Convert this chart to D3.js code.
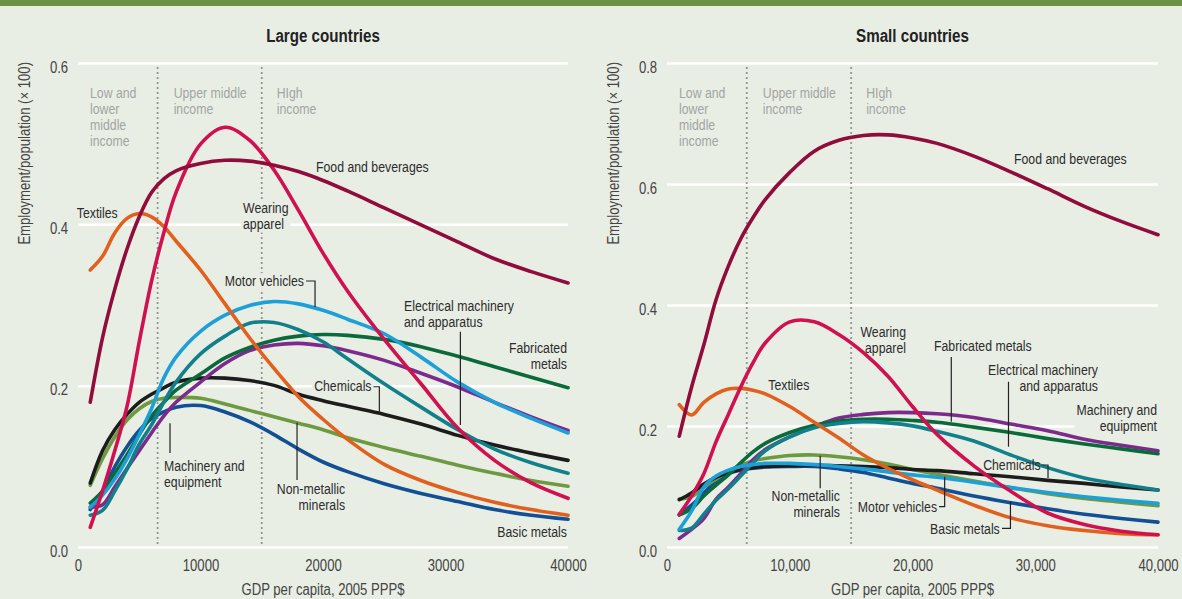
<!DOCTYPE html>
<html><head><meta charset="utf-8">
<script src="https://cdn.jsdelivr.net/npm/d3@7"></script>
<style>
html,body{margin:0;padding:0;background:#e9eee5;}
svg{display:block;font-family:"Liberation Sans",Arial,Helvetica,sans-serif;}
</style></head><body>
<svg id="chart" width="1182" height="599"></svg>
<script>
// ---------- DATA ----------
const gdp = [1000,2000,3000,4000,5000,6000,7000,8000,10000,12000,14000,16000,18000,20000,22000,25000,28000,31000,34000,37000,40000];

const seriesNames = ["Food and beverages","Wearing apparel","Textiles","Motor vehicles","Electrical machinery and apparatus","Fabricated metals","Machinery and equipment","Chemicals","Non-metallic minerals","Basic metals"];
const seriesColors = ["#900c3b","#d0114f","#e1601d","#1d9fd8","#12808b","#0b6a3b","#7c2b8c","#1c1c1c","#6d9a40","#124f95"];

// Large countries
const largeFood       = [.180,.260,.320,.370,.410,.440,.457,.467,.476,.480,.479,.474,.466,.455,.442,.421,.400,.379,.358,.342,.328];
const largeWearing    = [.025,.070,.120,.175,.255,.330,.390,.440,.500,.521,.505,.468,.418,.365,.318,.258,.203,.148,.108,.080,.061];
const largeTextiles   = [.344,.361,.390,.408,.414,.410,.398,.380,.344,.302,.260,.222,.187,.159,.134,.103,.083,.068,.056,.047,.040];
const largeMotor      = [.050,.065,.085,.110,.140,.172,.210,.236,.268,.288,.300,.305,.302,.294,.283,.265,.236,.205,.180,.160,.142];
const largeElectrical = [.040,.046,.070,.097,.128,.152,.180,.205,.240,.262,.278,.279,.270,.255,.234,.203,.174,.146,.122,.105,.092];
const largeFabricated = [.055,.070,.092,.115,.140,.163,.180,.195,.215,.235,.248,.257,.262,.264,.263,.258,.249,.237,.224,.211,.198];
const largeMachinery  = [.050,.053,.075,.098,.120,.142,.163,.180,.205,.228,.244,.251,.253,.250,.244,.232,.216,.199,.180,.162,.145];
const largeChemicals  = [.080,.120,.146,.165,.180,.190,.198,.205,.210,.210,.207,.201,.190,.182,.175,.165,.153,.139,.127,.117,.108];
const largeNonmetal   = [.077,.110,.137,.158,.172,.181,.185,.186,.185,.178,.170,.162,.154,.146,.136,.124,.113,.102,.092,.083,.076];
const largeBasic      = [.047,.070,.100,.125,.145,.160,.168,.174,.176,.168,.156,.140,.122,.106,.094,.079,.067,.057,.047,.040,.035];

// Small countries
const smallFood       = [.184,.265,.335,.410,.465,.510,.545,.575,.620,.655,.673,.681,.682,.677,.668,.647,.621,.593,.564,.539,.517];
const smallWearing    = [.055,.085,.122,.175,.220,.265,.305,.338,.373,.373,.352,.322,.283,.233,.187,.135,.093,.057,.038,.027,.021];
const smallTextiles   = [.236,.219,.240,.254,.262,.263,.260,.254,.233,.207,.181,.153,.131,.112,.095,.070,.049,.036,.028,.023,.021];
const smallMotor      = [.030,.060,.100,.118,.128,.134,.137,.139,.139,.137,.134,.130,.125,.120,.116,.108,.099,.091,.084,.078,.073];
const smallElectrical = [.028,.032,.055,.078,.097,.118,.140,.160,.183,.198,.205,.208,.206,.201,.192,.176,.153,.132,.115,.104,.095];
const smallFabricated = [.054,.064,.085,.103,.120,.140,.158,.172,.190,.202,.209,.212,.212,.210,.207,.199,.190,.180,.171,.163,.155];
const smallMachinery  = [.015,.030,.048,.080,.100,.122,.145,.162,.183,.200,.214,.220,.223,.223,.221,.215,.204,.193,.179,.169,.160];
const smallChemicals  = [.079,.090,.105,.116,.124,.129,.132,.134,.135,.136,.135,.134,.132,.129,.127,.122,.117,.111,.106,.100,.095];
const smallNonmetal   = [.080,.084,.100,.113,.126,.136,.143,.147,.152,.153,.150,.145,.138,.129,.121,.110,.099,.089,.081,.075,.069];
const smallBasic      = [.054,.070,.090,.110,.122,.128,.131,.133,.134,.134,.130,.124,.115,.106,.098,.085,.074,.064,.055,.048,.042];

const incomeThresholds = [6500, 15000];
const incomeLabels = [["Low and","lower","middle","income"],["Upper middle","income"],["HIgh","income"]];
const largeYTicks = [0, 0.2, 0.4, 0.6];
const smallYTicks = [0, 0.2, 0.4, 0.6, 0.8];
const xTicks = [0, 10000, 20000, 30000, 40000];

// label annotations (data coordinates)
const largeNotes = [
  {lines:["Food and beverages"], gx:19430, v:.4717, anchor:"start"},
  {lines:["Wearing","apparel"], gx:13470, v:.4208, anchor:"start"},
  {lines:["Textiles"], gx:-100, v:.4146, anchor:"start"},
  {lines:["Motor vehicles"], gx:18450, v:.3304, anchor:"end", link:[[18620,.3304],[19350,.3304],[19350,.2981]]},
  {lines:["Electrical machinery","and apparatus"], gx:26610, v:.2997, anchor:"start", link:[[31215,.2675],[31215,.1519]]},
  {lines:["Fabricated","metals"], gx:39918, v:.2473, anchor:"end"},
  {lines:["Chemicals"], gx:23960, v:.2002, anchor:"end", link:[[24130,.1993],[24600,.1993],[24600,.1683]]},
  {lines:["Machinery and","equipment"], gx:7020, v:.1014, anchor:"start", link:[[7510,.154],[7510,.1171]]},
  {lines:["Non-metallic","minerals"], gx:21800, v:.0734, anchor:"end", link:[[17880,.1547],[17880,.0837]]},
  {lines:["Basic metals"], gx:39918, v:.0196, anchor:"end"}
];
const smallNotes = [
  {lines:["Food and beverages"], gx:28270, v:.6421, anchor:"start"},
  {lines:["Wearing","apparel"], gx:19470, v:.3567, anchor:"end"},
  {lines:["Textiles"], gx:8253, v:.2697, anchor:"start"},
  {lines:["Fabricated metals"], gx:21750, v:.3336, anchor:"start", link:[[23160,.3149],[23160,.2079]]},
  {lines:["Electrical machinery","and apparatus"], gx:35110, v:.2934, anchor:"end", link:[[27820,.274],[27820,.1666]]},
  {lines:["Machinery and","equipment"], gx:39920, v:.2273, anchor:"end"},
  {lines:["Chemicals"], gx:30430, v:.1364, anchor:"end", link:[[30590,.1364],[31040,.1364],[31040,.1149]]},
  {lines:["Non-metallic","minerals"], gx:14080, v:.0851, anchor:"end", link:[[12480,.1517],[12480,.0979]]},
  {lines:["Motor vehicles"], gx:22000, v:.0674, anchor:"end", link:[[22160,.0674],[22620,.0674],[22620,.117]]},
  {lines:["Basic metals"], gx:27110, v:.0317, anchor:"end", link:[[27290,.0317],[27980,.0317],[27980,.0757]]}
];

// ---------- LAYOUT ----------
const BG = "#e9eee5";
const SX = 0.82; // horizontal condensing of text
const panels = [
  {title:"Large countries", x0:78, x1:568, yMax:0.6, yTicks:largeYTicks, fmt:d3.format("d"), notes:largeNotes,
   series:[largeFood,largeWearing,largeTextiles,largeMotor,largeElectrical,largeFabricated,largeMachinery,largeChemicals,largeNonmetal,largeBasic]},
  {title:"Small countries", x0:667, x1:1158, yMax:0.8, yTicks:smallYTicks, fmt:d3.format(","), notes:smallNotes,
   series:[smallFood,smallWearing,smallTextiles,smallMotor,smallElectrical,smallFabricated,smallMachinery,smallChemicals,smallNonmetal,smallBasic]}
];
const yTop = 63.5, yBot = 547.5;
const drawOrder = [9,8,7,6,5,4,3,2,1,0];

const svg = d3.select("#chart");
svg.append("rect").attr("width",1182).attr("height",599).attr("fill",BG);
svg.append("rect").attr("width",1182).attr("height",6).attr("fill","#6a9444");

function ntext(parent, x, y, anchor, size, lines, lh, dy) {
  const t = parent.append("text").attr("transform",`translate(${x},${y}) scale(${SX},1)`)
    .attr("text-anchor",anchor).attr("font-size",size);
  lines.forEach((ln,i)=> t.append("tspan").attr("x",0).attr("y",i*lh).attr("dy",dy||0).text(ln));
  return t;
}

panels.forEach(p => {
  const x = d3.scaleLinear().domain([0,40000]).range([p.x0,p.x1]);
  const y = d3.scaleLinear().domain([0,p.yMax]).range([yBot,yTop]);
  const g = svg.append("g");
  const cx = (p.x0+p.x1)/2;

  // title
  ntext(g, cx, 42, "middle", 18.5, [p.title], 0).attr("font-weight","bold").attr("fill","#222");

  // gridlines
  g.append("g").selectAll("line").data(p.yTicks).join("line")
    .attr("x1",p.x0).attr("x2",p.x1).attr("y1",d=>y(d)).attr("y2",d=>y(d))
    .attr("stroke","#fff").attr("stroke-width",2.5);

  // income thresholds
  g.append("g").selectAll("line").data(incomeThresholds).join("line")
    .attr("x1",d=>x(d)).attr("x2",d=>x(d)).attr("y1",68).attr("y2",yBot)
    .attr("stroke","#8d8d8d").attr("stroke-width",2.2).attr("stroke-dasharray","0 5").attr("stroke-linecap","round");

  // income labels
  const incX = [x(0)+12, x(incomeThresholds[0])+16, x(incomeThresholds[1])+15];
  incomeLabels.forEach((lines,i) => {
    ntext(g, incX[i], 98, "start", 15, lines, 16).attr("fill","#a2a5a2");
  });

  const bgLayer = g.append("g");
  const lineLayer = g.append("g");
  const labelLayer = g.append("g");

  // curves
  const line = d3.line().x((d,i)=>x(gdp[i])).y(d=>y(d)).curve(d3.curveCatmullRom.alpha(0.5));
  drawOrder.forEach(k => {
    lineLayer.append("path").attr("d", line(p.series[k])).attr("fill","none")
      .attr("stroke", seriesColors[k]).attr("stroke-width",3.6).attr("stroke-linejoin","round").attr("stroke-linecap","round");
  });

  // labels
  p.notes.forEach(a => {
    const tx = x(a.gx), ty = y(a.v);
    const t = ntext(labelLayer, tx, ty, a.anchor, 15, a.lines, 16, "0.35em").attr("fill","#2c2c2c");
    const b = t.node().getBBox();
    bgLayer.append("rect").attr("x",tx+b.x*SX-2).attr("y",ty+b.y).attr("width",b.width*SX+4).attr("height",b.height).attr("fill",BG);
    if (a.link) {
      labelLayer.append("path").attr("d", d3.line().x(d=>x(d[0])).y(d=>y(d[1]))(a.link))
        .attr("fill","none").attr("stroke","#222").attr("stroke-width",1.2);
    }
  });

  // axes
  const xa = g.append("g").attr("transform",`translate(0,${yBot})`)
    .call(d3.axisBottom(x).tickValues(xTicks).tickFormat(p.fmt).tickSize(0).tickPadding(12));
  xa.select(".domain").remove();
  xa.attr("font-family",null).attr("font-size",null);
  xa.selectAll("text").attr("font-size",16).attr("fill","#444").attr("transform",`scale(${SX},1)`);
  const ya = g.append("g").attr("transform",`translate(${p.x0},0)`)
    .call(d3.axisLeft(y).tickValues(p.yTicks).tickFormat(d3.format(".1f")).tickSize(0).tickPadding(12));
  ya.select(".domain").remove();
  ya.attr("font-family",null).attr("font-size",null);
  ya.selectAll("text").attr("font-size",16).attr("fill","#444").attr("dy","0.55em").attr("transform",`scale(${SX},1)`);

  // axis titles
  ntext(g, cx, 595, "middle", 16, ["GDP per capita, 2005 PPP$"], 0).attr("fill","#444");
  g.append("text").attr("transform",`translate(${p.x0-48.5},62) rotate(-90) scale(${SX},1)`).attr("text-anchor","end")
    .attr("font-size",16).attr("fill","#444").text("Employment/population (× 100)");
});
</script>
</body></html>
